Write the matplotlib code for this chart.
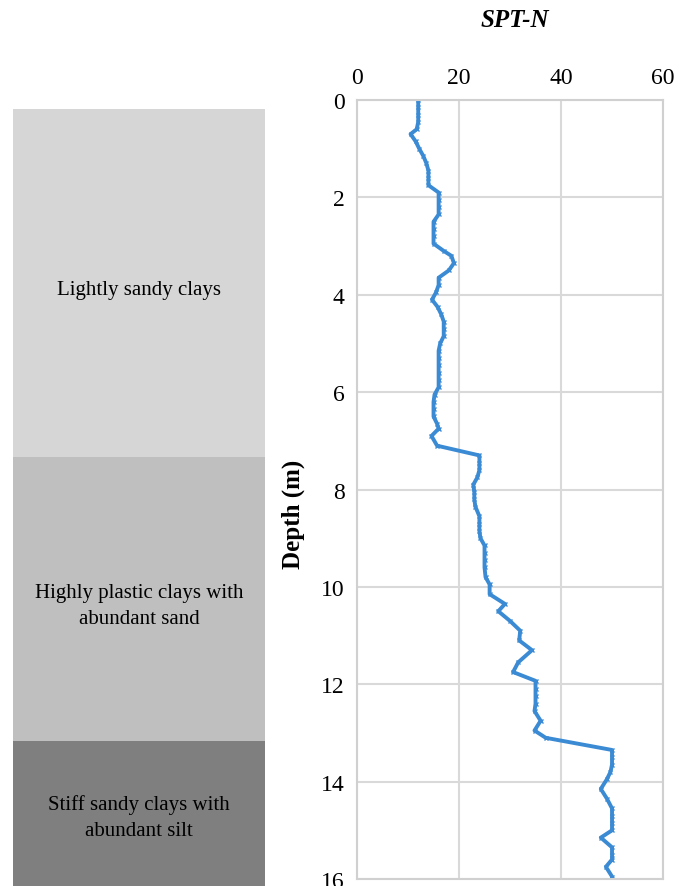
import matplotlib
matplotlib.use("Agg")
import matplotlib.pyplot as plt

plt.rcParams['font.family'] = 'Liberation Serif'

# SPT blow counts
depth = [0.0, 0.15, 0.3, 0.45, 0.6, 0.7, 0.85, 1.0, 1.15, 1.3, 1.45, 1.6, 1.75,
         1.9, 2.05, 2.2, 2.35, 2.5, 2.65, 2.8, 2.95, 3.1, 3.2, 3.35, 3.5, 3.65,
         3.8, 3.95, 4.1, 4.25, 4.4, 4.55, 4.7, 4.85, 5.0, 5.15, 5.3, 5.45, 5.6,
         5.75, 5.9, 6.05, 6.2, 6.35, 6.5, 6.65, 6.75, 6.9, 7.1, 7.3, 7.45, 7.6,
         7.75, 7.9, 8.05, 8.2, 8.35, 8.55, 8.7, 8.85, 9.0, 9.15, 9.3, 9.45, 9.6,
         9.8, 9.95, 10.15, 10.35, 10.5, 10.7, 10.9, 11.1, 11.3, 11.55, 11.75,
         11.93, 12.1, 12.25, 12.4, 12.55, 12.75, 12.95, 13.1, 13.35, 13.5, 13.65,
         13.8, 13.95, 14.15, 14.35, 14.55, 14.7, 14.85, 15.0, 15.15, 15.35, 15.5,
         15.6, 15.75, 15.95, 16.0]
spt_n = [12, 12, 12, 12, 11.7, 10.5, 11.5, 12.2, 13, 13.6, 14, 14, 14,
         16, 16, 16, 16, 15, 15, 15, 15, 17, 18.5, 19, 18, 16,
         16, 15.5, 14.7, 15.8, 16.5, 17, 17, 17, 16.3, 16, 16, 16, 16,
         16, 16, 15.2, 15, 15, 15, 15.7, 16, 14.6, 15.7, 24, 24, 24,
         23.6, 22.8, 23, 23, 23.2, 24, 24, 24, 24.2, 25, 25, 25, 25,
         25.2, 26, 26, 29, 27.7, 30, 32, 31.8, 34.3, 31.6, 30.6,
         35, 35, 35, 35, 34.8, 36, 34.8, 37, 50, 50, 50,
         49.7, 49, 47.8, 49, 50, 50, 50, 50, 47.8, 50, 50,
         50, 48.8, 50, 50]

# soil layers (top, bottom in m)
layer_names = ['Lightly sandy clays',
               'Highly plastic clays with\nabundant sand',
               'Stiff sandy clays with\nabundant silt']
layer_top = [0.18, 7.33, 13.16]
layer_bot = [7.33, 13.16, 16.2]
layer_colors = ['#d6d6d6', '#bfbfbf', '#7f7f7f']

fig = plt.figure(figsize=(6.87, 8.87), dpi=100)

ax = fig.add_axes([0.5197, 0.0079, 0.4454, 0.8782])
ax.plot(spt_n, depth, color='#3a8ad4', lw=2.8, marker='x', ms=3.5, mew=1)
ax.set_xlim(0, 60)
ax.set_ylim(16, 0)
ax.set_xticks([0, 20, 40, 60])
ax.set_yticks(range(0, 17, 2))
ax.xaxis.tick_top()
ax.tick_params(length=0, labelsize=17, pad=9)
ax.grid(color='#d9d9d9', lw=1.5)
for s in ax.spines.values():
    s.set_color('#d0d0d0')
    s.set_linewidth(1.5)
ax.set_ylabel('Depth (m)', fontsize=18, fontweight='bold')
ax.yaxis.set_label_coords(-0.17, 0.47)
fig.text(0.75, 0.977, 'SPT-N', fontsize=18, fontweight='bold', fontstyle='italic',
         ha='center', va='center')

# layer column on the left
lax = fig.add_axes([0.0189, 0.0079, 0.3668, 0.8782])
lax.set_ylim(16, 0)
lax.set_xlim(0, 1)
lax.axis('off')
for name, top, bot, c in zip(layer_names, layer_top, layer_bot, layer_colors):
    lax.bar(0.5, bot - top, bottom=top, width=1, color=c, clip_on=False)
    lax.text(0.5, (top + min(bot, 16.0)) / 2 + 0.14, name, ha='center', va='center',
             fontsize=15, linespacing=1.5)

fig.savefig('out.png', dpi=100)
